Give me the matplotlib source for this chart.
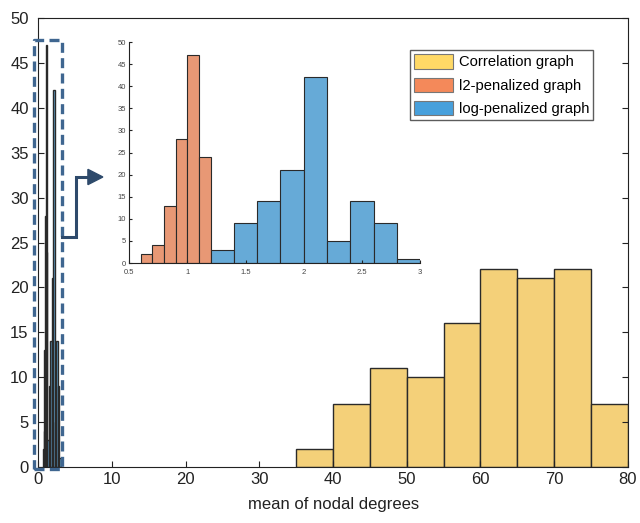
import matplotlib.pyplot as plt
import numpy as np

plt.rcParams['font.family'] = ['Liberation Sans', 'DejaVu Sans']

# histogram counts
corr_edges = [35, 40, 45, 50, 55, 60, 65, 70, 75, 80]
corr_counts = [2, 7, 11, 10, 16, 22, 21, 22, 7]

l2_edges = [0.6, 0.7, 0.8, 0.9, 1.0, 1.1, 1.2]
l2_counts = [2, 4, 13, 28, 47, 24]

log_edges = [1.2, 1.4, 1.6, 1.8, 2.0, 2.2, 2.4, 2.6, 2.8, 3.0]
log_counts = [3, 9, 14, 21, 42, 5, 14, 9, 1]

labels = ['Correlation graph', 'l2-penalized graph', 'log-penalized graph']
face = ['#F4D079', '#E89875', '#66AAD7']
legend_face = ['#FFD966', '#F4895A', '#47A0DC']
edge = '#2a2a2a'


def draw_hist(ax, edges, counts, color, lw):
    edges = np.array(edges)
    ax.bar(edges[:-1], counts, width=np.diff(edges), align='edge',
           color=color, edgecolor=edge, linewidth=lw)


fig = plt.figure(figsize=(6.4, 5.23), dpi=100)
ax = fig.add_axes([0.060, 0.107, 0.921, 0.8585])

draw_hist(ax, corr_edges, corr_counts, face[0], 1.0)
draw_hist(ax, l2_edges, l2_counts, face[1], 1.0)
draw_hist(ax, log_edges, log_counts, face[2], 1.0)

ax.set_xlim(0, 80)
ax.set_ylim(0, 50)
ax.set_xticks(range(0, 81, 10))
ax.set_yticks(range(0, 51, 5))
ax.tick_params(direction='in', length=4, labelsize=12, color='#222222',
               labelcolor='#222222', right=True, top=False, labelright=False)
ax.tick_params(axis='y', pad=7)
for s in ax.spines.values():
    s.set_color('#222222')
ax.set_xlabel('mean of nodal degrees', fontsize=12, color='#222222', labelpad=7)

# dashed box around the small histograms and the arrow
dash_col = '#3F6690'
ax.plot([-0.54, 3.19, 3.19, -0.54, -0.54], [-0.22, -0.22, 47.55, 47.55, -0.22],
        ls=(0, (3, 1.6)), lw=2.4, color=dash_col, clip_on=False, zorder=5)
arrow_col = '#2E4A6B'
ax.plot([3.19, 5.09, 5.09, 6.9], [25.6, 25.6, 32.3, 32.3], color=arrow_col,
        lw=2.2, clip_on=False, zorder=5, solid_joinstyle='miter')
ax.fill([6.72, 8.75, 6.72], [31.45, 32.3, 33.15], color=arrow_col,
        clip_on=False, zorder=6)

# inset axes
ins = fig.add_axes([0.2016, 0.497, 0.455, 0.4226])
draw_hist(ins, l2_edges, l2_counts, face[1], 0.8)
draw_hist(ins, log_edges, log_counts, face[2], 0.8)
ins.set_xlim(0.5, 3)
ins.set_ylim(0, 50)
ins.set_xticks([0.5, 1, 1.5, 2, 2.5, 3])
ins.set_xticklabels(['0.5', '1', '1.5', '2', '2.5', '3'])
ins.set_yticks(range(0, 51, 5))
ins.tick_params(direction='in', length=2.5, labelsize=5.5, color='#222222',
                labelcolor='#444444', pad=2)
ins.tick_params(axis='x', pad=4)
ins.spines['top'].set_visible(False)
ins.spines['right'].set_visible(False)
for s in ['left', 'bottom']:
    ins.spines[s].set_color('#222222')

# legend
handles = [plt.Rectangle((0, 0), 1, 1, facecolor=c, edgecolor='#777777', lw=0.8)
           for c in legend_face]
leg = fig.legend(handles, labels, loc='upper left', bbox_to_anchor=(0.6406, 0.9044),
                 fontsize=10.6, frameon=True, fancybox=False, handlelength=2.6,
                 handleheight=1.1, labelspacing=0.55, borderpad=0.3,
                 handletextpad=0.4, borderaxespad=0)
leg.get_frame().set_edgecolor('#333333')
leg.get_frame().set_linewidth(1.0)

fig.savefig('out.png', dpi=100)
